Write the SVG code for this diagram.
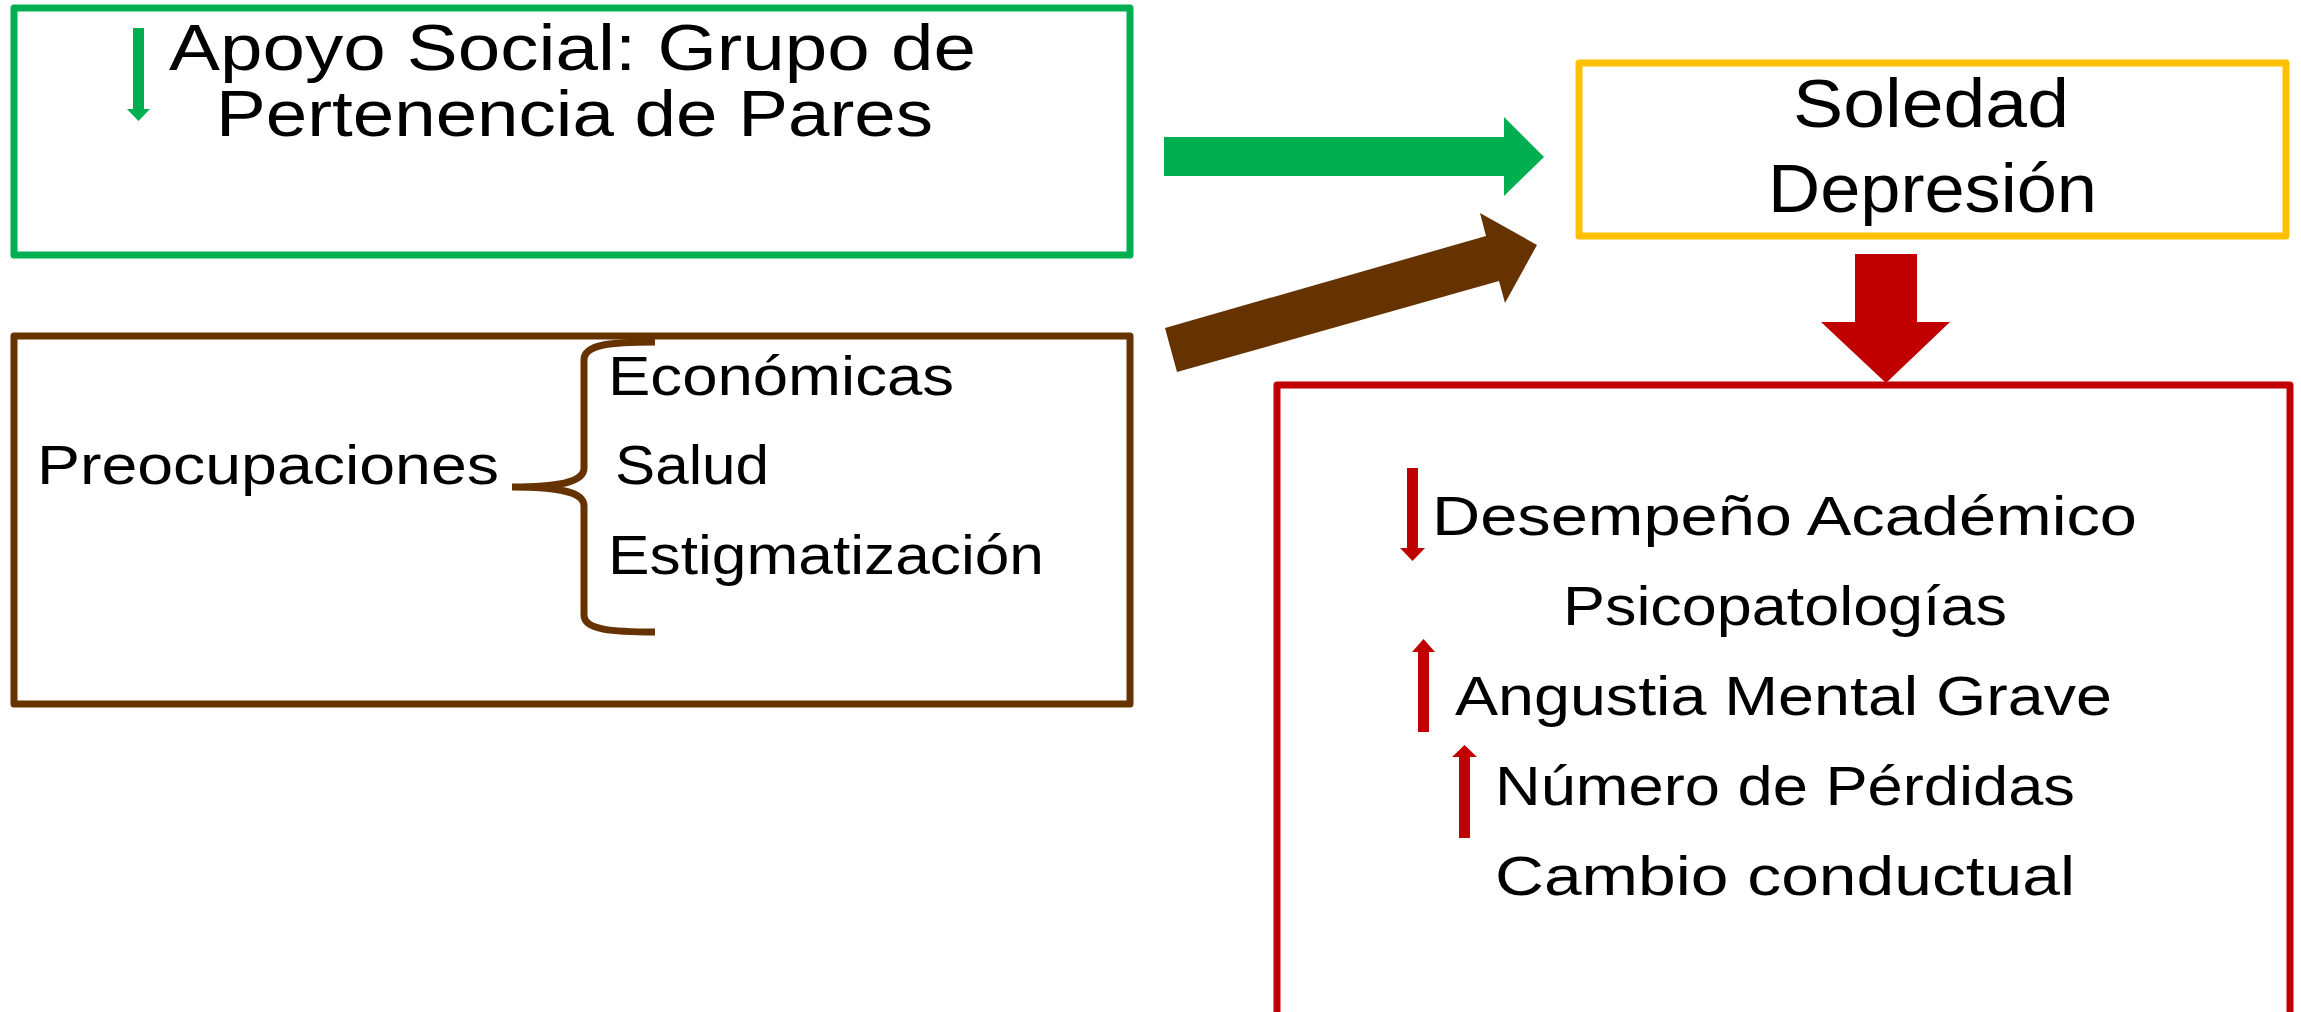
<svg xmlns="http://www.w3.org/2000/svg" width="2301" height="1012" viewBox="0 0 2301 1012">
<style>
.box{fill:#fff;stroke-width:7;stroke-linejoin:round}
.t{font-family:"Liberation Sans",Arial,sans-serif;fill:#000}
.big{font-size:68px}
.hd{font-size:64px}
.mid{font-size:56px}
</style>
<rect width="2301" height="1012" fill="#fff"/>
<g id="apoyo">
<rect class="box" x="14" y="8" width="1116" height="247" stroke="#00B050"/>
<polygon points="133,28 144,28 144,109 150,109 138.5,121 127,109 133,109" fill="#00B050"/>
<text class="t hd" x="169" y="70" textLength="807" lengthAdjust="spacingAndGlyphs">Apoyo Social: Grupo de</text>
<text class="t hd" x="216" y="136" textLength="717" lengthAdjust="spacingAndGlyphs">Pertenencia de Pares</text>
</g>
<g id="preocupaciones">
<rect class="box" x="14" y="336" width="1116" height="368" stroke="#663300"/>
<text class="t mid" x="37" y="484" textLength="462" lengthAdjust="spacingAndGlyphs">Preocupaciones</text>
<path d="M655,342 C612,342 584,344 584,360 L584,468 C584,482 560,487 512,487 C560,487 584,492 584,506 L584,615 C584,630 612,632 655,632" fill="none" stroke="#663300" stroke-width="7"/>
<text class="t mid" x="608" y="395" textLength="346" lengthAdjust="spacingAndGlyphs">Económicas</text>
<text class="t mid" x="615" y="484" textLength="154" lengthAdjust="spacingAndGlyphs">Salud</text>
<text class="t mid" x="608" y="574" textLength="436" lengthAdjust="spacingAndGlyphs">Estigmatización</text>
</g>
<g id="soledad">
<rect class="box" x="1579" y="63" width="707" height="173" stroke="#FFC000"/>
<text class="t big" x="1793" y="127" textLength="276" lengthAdjust="spacingAndGlyphs">Soledad</text>
<text class="t big" x="1768" y="212" textLength="329" lengthAdjust="spacingAndGlyphs">Depresión</text>
</g>
<g id="consecuencias">
<rect class="box" x="1277" y="385" width="1013" height="660" stroke="#C00000"/>
<polygon points="1407,468 1418,468 1418,548 1425,548 1412.5,561 1400,548 1407,548" fill="#C00000"/>
<text class="t mid" x="1432" y="535" textLength="705" lengthAdjust="spacingAndGlyphs">Desempeño Académico</text>
<text class="t mid" x="1563" y="625" textLength="444" lengthAdjust="spacingAndGlyphs">Psicopatologías</text>
<polygon points="1418,732 1429,732 1429,652 1435,652 1423.5,639 1412,652 1418,652" fill="#C00000"/>
<text class="t mid" x="1455" y="715" textLength="657" lengthAdjust="spacingAndGlyphs">Angustia Mental Grave</text>
<polygon points="1459,838 1470,838 1470,757 1477,757 1464.5,745 1452,757 1459,757" fill="#C00000"/>
<text class="t mid" x="1495" y="805" textLength="580" lengthAdjust="spacingAndGlyphs">Número de Pérdidas</text>
<text class="t mid" x="1495" y="895" textLength="580" lengthAdjust="spacingAndGlyphs">Cambio conductual</text>
</g>
<g id="connectors">
<polygon points="1164,137 1504,137 1504,117 1544,157 1504,196 1504,176 1164,176" fill="#00B050"/>
<polygon points="1165,328 1486,236 1480,213 1537,245 1505,303 1499,281 1177,372" fill="#663300"/>
<polygon points="1855,254 1917,254 1917,322 1950,322 1886,383 1821,322 1855,322" fill="#C00000"/>
</g>
</svg>
